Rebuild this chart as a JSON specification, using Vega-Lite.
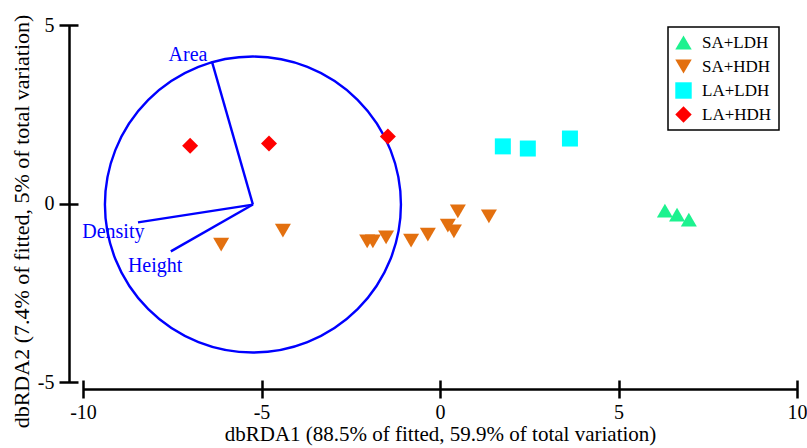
{
  "$schema": "https://vega.github.io/schema/vega-lite/v6.json",
  "width": 714,
  "height": 357,
  "autosize": "none",
  "padding": {"left": 83, "top": 25, "right": 10, "bottom": 66},
  "background": "white",
  "config": {
    "font": "Liberation Serif",
    "view": {"stroke": null},
    "axis": {
      "grid": false,
      "domainColor": "black",
      "tickColor": "black",
      "labelColor": "black",
      "titleColor": "black",
      "labelFont": "Liberation Serif",
      "titleFont": "Liberation Serif",
      "labelFontSize": 20,
      "titleFontSize": 21,
      "titleFontWeight": "normal",
      "domainWidth": 2.5,
      "tickWidth": 2.5
    },
    "legend": {
      "orient": "none",
      "legendX": 585,
      "legendY": 2,
      "strokeColor": "black",
      "strokeWidth": 1.5,
      "padding": 7,
      "rowPadding": 6,
      "labelFont": "Liberation Serif",
      "labelFontSize": 17,
      "labelColor": "black",
      "labelOffset": 10,
      "symbolSize": 270,
      "symbolStrokeWidth": 0
    }
  },
  "datasets": {
    "pts": [
      {"group": "SA+LDH", "x": 6.30, "y": -0.20},
      {"group": "SA+LDH", "x": 6.64, "y": -0.31},
      {"group": "SA+LDH", "x": 6.97, "y": -0.45},
      {"group": "SA+HDH", "x": -6.13, "y": -1.15},
      {"group": "SA+HDH", "x": -4.40, "y": -0.76},
      {"group": "SA+HDH", "x": -2.04, "y": -1.06},
      {"group": "SA+HDH", "x": -1.88, "y": -1.06},
      {"group": "SA+HDH", "x": -1.51, "y": -0.95},
      {"group": "SA+HDH", "x": -0.81, "y": -1.04},
      {"group": "SA+HDH", "x": -0.34, "y": -0.87},
      {"group": "SA+HDH", "x": 0.22, "y": -0.62},
      {"group": "SA+HDH", "x": 0.39, "y": -0.78},
      {"group": "SA+HDH", "x": 0.50, "y": -0.22},
      {"group": "SA+HDH", "x": 1.37, "y": -0.36},
      {"group": "LA+LDH", "x": 1.76, "y": 1.60},
      {"group": "LA+LDH", "x": 2.46, "y": 1.54},
      {"group": "LA+LDH", "x": 3.64, "y": 1.82},
      {"group": "LA+HDH", "x": -7.00, "y": 1.62},
      {"group": "LA+HDH", "x": -4.79, "y": 1.68},
      {"group": "LA+HDH", "x": -1.46, "y": 1.88}
    ],
    "vec": [
      {"v": "Area", "x": -5.24, "y": -0.03, "xe": -6.39, "ye": 3.98, "lx": -7.06, "ly": 4.17},
      {"v": "Density", "x": -5.24, "y": -0.03, "xe": -8.46, "ye": -0.53, "lx": -9.15, "ly": -0.81},
      {"v": "Height", "x": -5.24, "y": -0.03, "xe": -7.54, "ye": -1.34, "lx": -7.98, "ly": -1.74}
    ],
    "circ": [
      {"cx": -5.24, "cy": -0.03}
    ]
  },
  "layer": [
    {
      "data": {"name": "circ"},
      "mark": {"type": "point", "shape": "circle", "filled": false, "size": 87616, "stroke": "#0000FF", "strokeWidth": 2.4, "opacity": 1},
      "encoding": {
        "x": {"field": "cx", "type": "quantitative", "axis": null, "scale": {"domain": [-10, 10], "nice": false, "zero": false}},
        "y": {"field": "cy", "type": "quantitative", "axis": null, "scale": {"domain": [-5, 5], "nice": false, "zero": false}}
      }
    },
    {
      "data": {"name": "vec"},
      "mark": {"type": "rule", "color": "#0000FF", "strokeWidth": 2.4},
      "encoding": {
        "x": {"field": "x", "type": "quantitative", "scale": {"domain": [-10, 10], "nice": false, "zero": false},
          "axis": {"orient": "bottom", "offset": 7, "ticks": false, "labels": false, "title": "dbRDA1 (88.5% of fitted, 59.9% of total variation)", "titlePadding": 34}},
        "y": {"field": "y", "type": "quantitative", "scale": {"domain": [-5, 5], "nice": false, "zero": false},
          "axis": {"orient": "left", "offset": 14, "ticks": false, "labels": false, "title": "dbRDA2 (7.4% of fitted, 5% of total variation)", "titlePadding": 36, "titleFontSize": 22, "titleY": 196}},
        "x2": {"field": "xe"},
        "y2": {"field": "ye"}
      }
    },
    {
      "data": {"name": "vec"},
      "mark": {"type": "text", "color": "#0000FF", "font": "Liberation Serif", "fontSize": 20, "align": "center", "baseline": "middle"},
      "encoding": {
        "x": {"field": "lx", "type": "quantitative", "axis": null},
        "y": {"field": "ly", "type": "quantitative", "axis": null},
        "text": {"field": "v"}
      }
    },
    {
      "data": {"name": "pts"},
      "mark": {"type": "point", "filled": true, "size": 256, "opacity": 1},
      "encoding": {
        "x": {"field": "x", "type": "quantitative", "scale": {"domain": [-10, 10], "nice": false, "zero": false},
          "axis": {"orient": "bottom", "offset": -2, "domain": false, "tickSize": 18, "values": [-10, -5, 0, 5, 10], "labelPadding": 4, "labelExpr": "'' + datum.value", "labelFlush": false, "labelOverlap": false, "title": null}},
        "y": {"field": "y", "type": "quantitative", "scale": {"domain": [-5, 5], "nice": false, "zero": false},
          "axis": {"orient": "left", "offset": 5, "domain": false, "tickSize": 19, "values": [-5, 0, 5], "labelPadding": 5, "labelExpr": "'' + datum.value", "labelFlush": false, "labelOverlap": false, "title": null}},
        "color": {"field": "group", "type": "nominal",
          "scale": {"domain": ["SA+LDH", "SA+HDH", "LA+LDH", "LA+HDH"], "range": ["#1DF28F", "#E3700F", "#00FFFF", "#FF0000"]},
          "legend": {"title": null}},
        "shape": {"field": "group", "type": "nominal",
          "scale": {"domain": ["SA+LDH", "SA+HDH", "LA+LDH", "LA+HDH"], "range": ["triangle-up", "triangle-down", "square", "diamond"]},
          "legend": {"title": null}}
      }
    }
  ],
  "resolve": {"axis": {"x": "independent", "y": "independent"}}
}
